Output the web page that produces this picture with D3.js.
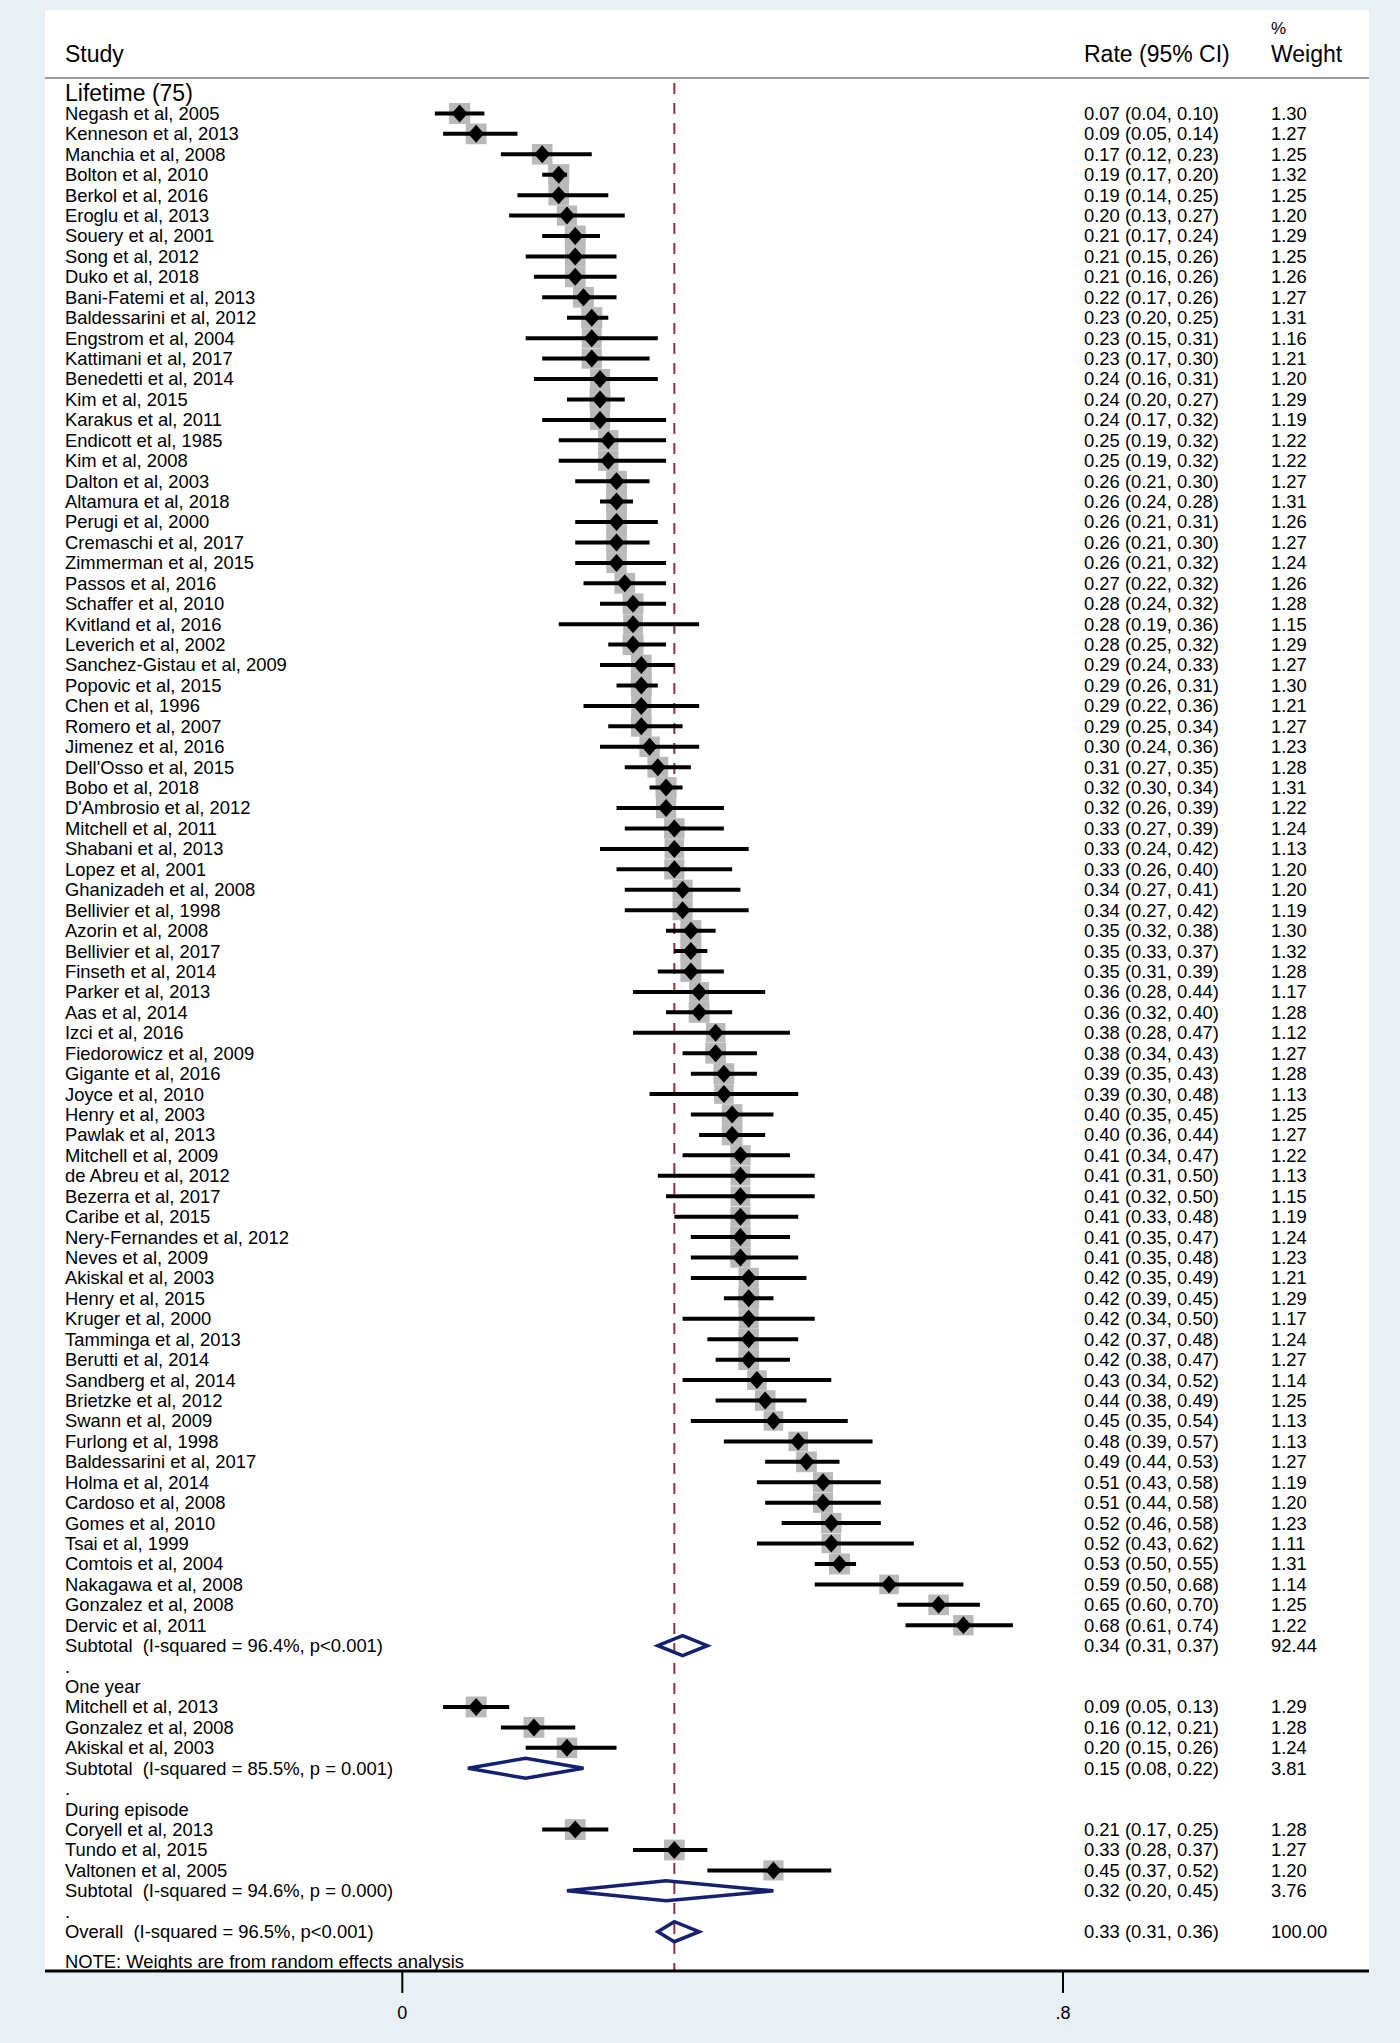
<!DOCTYPE html>
<html>
<head>
<meta charset="utf-8">
<script src="https://cdn.jsdelivr.net/npm/d3@7"></script>
<style>
  body { margin: 0; background: #e9f0f3; }
  svg { display: block; font-family: "Liberation Sans", Arial, sans-serif; }
  text { white-space: pre; }
</style>
</head>
<body>
<div id="chart"></div>
<script>
// ---- data ----
let lifetimeStudies = ["Negash et al, 2005", "Kenneson et al, 2013", "Manchia et al, 2008", "Bolton et al, 2010",
  "Berkol et al, 2016", "Eroglu et al, 2013", "Souery et al, 2001", "Song et al, 2012", "Duko et al, 2018",
  "Bani-Fatemi et al, 2013", "Baldessarini et al, 2012", "Engstrom et al, 2004", "Kattimani et al, 2017",
  "Benedetti et al, 2014", "Kim et al, 2015", "Karakus et al, 2011", "Endicott et al, 1985", "Kim et al, 2008",
  "Dalton et al, 2003", "Altamura et al, 2018", "Perugi et al, 2000", "Cremaschi et al, 2017",
  "Zimmerman et al, 2015", "Passos et al, 2016", "Schaffer et al, 2010", "Kvitland et al, 2016",
  "Leverich et al, 2002", "Sanchez-Gistau et al, 2009", "Popovic et al, 2015", "Chen et al, 1996",
  "Romero et al, 2007", "Jimenez et al, 2016", "Dell'Osso et al, 2015", "Bobo et al, 2018",
  "D'Ambrosio et al, 2012", "Mitchell et al, 2011", "Shabani et al, 2013", "Lopez et al, 2001",
  "Ghanizadeh et al, 2008", "Bellivier et al, 1998", "Azorin et al, 2008", "Bellivier et al, 2017",
  "Finseth et al, 2014", "Parker et al, 2013", "Aas et al, 2014", "Izci et al, 2016", "Fiedorowicz et al, 2009",
  "Gigante et al, 2016", "Joyce et al, 2010", "Henry et al, 2003", "Pawlak et al, 2013", "Mitchell et al, 2009",
  "de Abreu et al, 2012", "Bezerra et al, 2017", "Caribe et al, 2015", "Nery-Fernandes et al, 2012",
  "Neves et al, 2009", "Akiskal et al, 2003", "Henry et al, 2015", "Kruger et al, 2000", "Tamminga et al, 2013",
  "Berutti et al, 2014", "Sandberg et al, 2014", "Brietzke et al, 2012", "Swann et al, 2009",
  "Furlong et al, 1998", "Baldessarini et al, 2017", "Holma et al, 2014", "Cardoso et al, 2008",
  "Gomes et al, 2010", "Tsai et al, 1999", "Comtois et al, 2004", "Nakagawa et al, 2008",
  "Gonzalez et al, 2008", "Dervic et al, 2011"];
let lifetimeRate = [0.07, 0.09, 0.17, 0.19, 0.19, 0.20, 0.21, 0.21, 0.21, 0.22, 0.23, 0.23, 0.23, 0.24, 0.24,
  0.24, 0.25, 0.25, 0.26, 0.26, 0.26, 0.26, 0.26, 0.27, 0.28, 0.28, 0.28, 0.29, 0.29, 0.29, 0.29, 0.30, 0.31,
  0.32, 0.32, 0.33, 0.33, 0.33, 0.34, 0.34, 0.35, 0.35, 0.35, 0.36, 0.36, 0.38, 0.38, 0.39, 0.39, 0.40, 0.40,
  0.41, 0.41, 0.41, 0.41, 0.41, 0.41, 0.42, 0.42, 0.42, 0.42, 0.42, 0.43, 0.44, 0.45, 0.48, 0.49, 0.51, 0.51,
  0.52, 0.52, 0.53, 0.59, 0.65, 0.68];
let lifetimeLow = [0.04, 0.05, 0.12, 0.17, 0.14, 0.13, 0.17, 0.15, 0.16, 0.17, 0.20, 0.15, 0.17, 0.16, 0.20,
  0.17, 0.19, 0.19, 0.21, 0.24, 0.21, 0.21, 0.21, 0.22, 0.24, 0.19, 0.25, 0.24, 0.26, 0.22, 0.25, 0.24, 0.27,
  0.30, 0.26, 0.27, 0.24, 0.26, 0.27, 0.27, 0.32, 0.33, 0.31, 0.28, 0.32, 0.28, 0.34, 0.35, 0.30, 0.35, 0.36,
  0.34, 0.31, 0.32, 0.33, 0.35, 0.35, 0.35, 0.39, 0.34, 0.37, 0.38, 0.34, 0.38, 0.35, 0.39, 0.44, 0.43, 0.44,
  0.46, 0.43, 0.50, 0.50, 0.60, 0.61];
let lifetimeHigh = [0.10, 0.14, 0.23, 0.20, 0.25, 0.27, 0.24, 0.26, 0.26, 0.26, 0.25, 0.31, 0.30, 0.31, 0.27,
  0.32, 0.32, 0.32, 0.30, 0.28, 0.31, 0.30, 0.32, 0.32, 0.32, 0.36, 0.32, 0.33, 0.31, 0.36, 0.34, 0.36, 0.35,
  0.34, 0.39, 0.39, 0.42, 0.40, 0.41, 0.42, 0.38, 0.37, 0.39, 0.44, 0.40, 0.47, 0.43, 0.43, 0.48, 0.45, 0.44,
  0.47, 0.50, 0.50, 0.48, 0.47, 0.48, 0.49, 0.45, 0.50, 0.48, 0.47, 0.52, 0.49, 0.54, 0.57, 0.53, 0.58, 0.58,
  0.58, 0.62, 0.55, 0.68, 0.70, 0.74];
let lifetimeWeight = [1.30, 1.27, 1.25, 1.32, 1.25, 1.20, 1.29, 1.25, 1.26, 1.27, 1.31, 1.16, 1.21, 1.20, 1.29,
  1.19, 1.22, 1.22, 1.27, 1.31, 1.26, 1.27, 1.24, 1.26, 1.28, 1.15, 1.29, 1.27, 1.30, 1.21, 1.27, 1.23, 1.28,
  1.31, 1.22, 1.24, 1.13, 1.20, 1.20, 1.19, 1.30, 1.32, 1.28, 1.17, 1.28, 1.12, 1.27, 1.28, 1.13, 1.25, 1.27,
  1.22, 1.13, 1.15, 1.19, 1.24, 1.23, 1.21, 1.29, 1.17, 1.24, 1.27, 1.14, 1.25, 1.13, 1.13, 1.27, 1.19, 1.20,
  1.23, 1.11, 1.31, 1.14, 1.25, 1.22];

let oneYearStudies = ["Mitchell et al, 2013", "Gonzalez et al, 2008", "Akiskal et al, 2003"];
let oneYearRate = [0.09, 0.16, 0.20];
let oneYearLow = [0.05, 0.12, 0.15];
let oneYearHigh = [0.13, 0.21, 0.26];
let oneYearWeight = [1.29, 1.28, 1.24];

let episodeStudies = ["Coryell et al, 2013", "Tundo et al, 2015", "Valtonen et al, 2005"];
let episodeRate = [0.21, 0.33, 0.45];
let episodeLow = [0.17, 0.28, 0.37];
let episodeHigh = [0.25, 0.37, 0.52];
let episodeWeight = [1.28, 1.27, 1.20];

let groupNames = ["Lifetime (75)", "One year", "During episode"];
let subtotalLabels = ["Subtotal  (I-squared = 96.4%, p<0.001)", "Subtotal  (I-squared = 85.5%, p = 0.001)",
  "Subtotal  (I-squared = 94.6%, p = 0.000)"];
let subtotalRate = [0.34, 0.15, 0.32];
let subtotalLow = [0.31, 0.08, 0.20];
let subtotalHigh = [0.37, 0.22, 0.45];
let subtotalWeight = [92.44, 3.81, 3.76];

let overallLabel = "Overall  (I-squared = 96.5%, p<0.001)";
let overallRate = 0.33, overallLow = 0.31, overallHigh = 0.36, overallWeight = 100.00;

let xTicks = [0, 0.8];

// ---- rows ----
let groups = [
  { studies: lifetimeStudies, rate: lifetimeRate, low: lifetimeLow, high: lifetimeHigh, weight: lifetimeWeight },
  { studies: oneYearStudies, rate: oneYearRate, low: oneYearLow, high: oneYearHigh, weight: oneYearWeight },
  { studies: episodeStudies, rate: episodeRate, low: episodeLow, high: episodeHigh, weight: episodeWeight }
];

let rows = [];
let r = 0;
groups.forEach((g, gi) => {
  rows.push({ type: "head", label: groupNames[gi], row: r++ });
  g.studies.forEach((s, i) => {
    rows.push({ type: "study", label: s, rate: g.rate[i], low: g.low[i], high: g.high[i], weight: g.weight[i], row: r++ });
  });
  rows.push({ type: "sub", label: subtotalLabels[gi], rate: subtotalRate[gi], low: subtotalLow[gi],
    high: subtotalHigh[gi], weight: subtotalWeight[gi], row: r++ });
  rows.push({ type: "dot", label: ".", row: r++ });
});
rows.push({ type: "sub", label: overallLabel, rate: overallRate, low: overallLow, high: overallHigh, weight: overallWeight, row: r++ });
rows.push({ type: "note", label: "NOTE: Weights are from random effects analysis", row: r + 0.45 });

// ---- drawing ----
const W = 1400, H = 2043;
const svg = d3.select("#chart").append("svg").attr("width", W).attr("height", H);

svg.append("rect").attr("width", W).attr("height", H).attr("fill", "#e9f0f3");
svg.append("rect").attr("x", 45).attr("y", 10).attr("width", 1324).attr("height", 1961).attr("fill", "#fff");

let x = d3.scaleLinear().domain([0, 0.8]).range([401.8, 1062.5]);
let y = d3.scaleLinear().domain([0, 1]).range([93, 113.43]);
const axisY = 1971;

// header
let hdr = svg.append("g").attr("font-size", 23).attr("fill", "#000");
hdr.append("text").attr("x", 65).attr("y", 54).attr("dy", "0.35em").text("Study");
hdr.append("text").attr("x", 1084).attr("y", 54).attr("dy", "0.35em").text("Rate (95% CI)");
hdr.append("text").attr("x", 1271).attr("y", 28).attr("dy", "0.35em").attr("font-size", 17).text("%");
hdr.append("text").attr("x", 1271).attr("y", 54).attr("dy", "0.35em").text("Weight");
svg.append("line").attr("x1", 45).attr("x2", 1369).attr("y1", 78).attr("y2", 78)
  .attr("stroke", "#9c9c9c").attr("stroke-width", 2);

// overall reference line
svg.append("line").attr("x1", x(overallRate)).attr("x2", x(overallRate)).attr("y1", 83).attr("y2", axisY)
  .attr("stroke", "#90303a").attr("stroke-width", 2).attr("stroke-dasharray", "11,9");

// study markers
let studyRows = rows.filter(d => d.type === "study");
let marks = svg.append("g").selectAll("g").data(studyRows).enter().append("g");
marks.append("rect")
  .attr("x", d => x(d.rate) - 10.5 * Math.sqrt(d.weight / 1.3))
  .attr("y", d => y(d.row) - 10.5 * Math.sqrt(d.weight / 1.3))
  .attr("width", d => 21 * Math.sqrt(d.weight / 1.3))
  .attr("height", d => 21 * Math.sqrt(d.weight / 1.3))
  .attr("fill", "#b9b9b9");
marks.append("line")
  .attr("x1", d => x(d.low)).attr("x2", d => x(d.high))
  .attr("y1", d => y(d.row)).attr("y2", d => y(d.row))
  .attr("stroke", "#000").attr("stroke-width", 4);
marks.append("path")
  .attr("d", d => `M${x(d.rate) - 8},${y(d.row)}L${x(d.rate)},${y(d.row) - 9}L${x(d.rate) + 8},${y(d.row)}L${x(d.rate)},${y(d.row) + 9}Z`)
  .attr("fill", "#000");

// subtotal / overall diamonds
svg.append("g").selectAll("path").data(rows.filter(d => d.type === "sub")).enter().append("path")
  .attr("d", d => `M${x(d.low)},${y(d.row)}L${x(d.rate)},${y(d.row) - 10}L${x(d.high)},${y(d.row)}L${x(d.rate)},${y(d.row) + 10}Z`)
  .attr("fill", "none").attr("stroke", "#162070").attr("stroke-width", 3.5).attr("stroke-linejoin", "miter");

// left labels
svg.append("g").selectAll("text").data(rows).enter().append("text")
  .attr("x", 65).attr("y", d => y(d.row)).attr("dy", "0.35em")
  .attr("font-size", d => d.type === "head" && d.row === 0 ? 23 : 18.4)
  .text(d => d.label);

// right columns
let f2 = d3.format(".2f");
let valued = rows.filter(d => d.type === "study" || d.type === "sub");
svg.append("g").selectAll("text").data(valued).enter().append("text")
  .attr("x", 1084).attr("y", d => y(d.row)).attr("dy", "0.35em").attr("font-size", 18.4)
  .text(d => `${f2(d.rate)} (${f2(d.low)}, ${f2(d.high)})`);
svg.append("g").selectAll("text").data(valued).enter().append("text")
  .attr("x", 1271).attr("y", d => y(d.row)).attr("dy", "0.35em").attr("font-size", 18.4)
  .text(d => f2(d.weight));

// x axis
svg.append("line").attr("x1", 45).attr("x2", 1369).attr("y1", axisY).attr("y2", axisY)
  .attr("stroke", "#000").attr("stroke-width", 3);
let axis = d3.axisBottom(x).tickValues(xTicks).tickSize(22).tickPadding(13)
  .tickFormat(d => d === 0 ? "0" : f2(d).replace(/^0/, "").replace(/0$/, ""));
let ax = svg.append("g").attr("transform", `translate(0,${axisY})`).call(axis);
ax.select(".domain").remove();
ax.selectAll(".tick line").attr("stroke", "#000").attr("stroke-width", 2);
ax.selectAll(".tick text").attr("font-size", 18).attr("fill", "#000")
  .attr("font-family", "Liberation Sans, Arial, sans-serif");
</script>
</body>
</html>
